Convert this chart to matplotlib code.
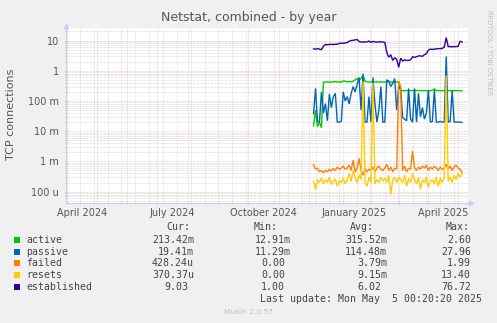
import matplotlib
matplotlib.use("Agg")
import matplotlib.pyplot as plt
import matplotlib.dates as mdates
from matplotlib.patches import Rectangle
from datetime import datetime, timedelta

W, H = 497, 323

# samples every 2 days starting 6 Dec 2024
START = datetime(2024, 12, 6)
STEP_DAYS = 2
END = datetime(2025, 5, 5, 0, 20, 20)

established = [5.3, 5.2, 5.4, 5.2, 5.0, 6.5, 7.4, 7.3, 7.4, 7.5,
               7.4, 7.5, 7.6, 8.0, 8.2, 8.1, 8.3, 8.6, 9.5, 10.0,
               10.2, 10.5, 10.8, 9.3, 9.0, 8.8, 9.1, 9.0, 9.6, 8.7,
               9.4, 9.0, 8.9, 9.0, 9.1, 9.0, 8.6, 4.0, 2.8, 3.4,
               2.2, 2.7, 2.4, 1.3, 2.6, 2.1, 2.3, 2.2, 2.2, 2.3,
               2.9, 2.8, 2.9, 3.1, 3.1, 3.0, 3.4, 3.7, 4.8, 5.2,
               5.1, 5.2, 5.3, 5.4, 5.4, 5.5, 6.0, 12.5, 6.3, 6.3,
               6.2, 6.3, 6.3, 6.4, 9.5, 9.0]

active = [0.015, 0.05, 0.014, 0.02, 0.013, 0.42, 0.42, 0.43, 0.42, 0.42,
          0.43, 0.44, 0.42, 0.43, 0.42, 0.46, 0.45, 0.43, 0.44, 0.43,
          0.45, 0.5, 0.55, 0.48, 0.56, 0.7, 0.45, 0.43, 0.42, 0.43,
          0.44, 0.42, 0.43, 0.42, 0.43, 0.42, 0.42, 0.43, 0.45, 0.42,
          0.43, 0.44, 0.42, 0.43, 0.22, 0.22, 0.22, 0.22, 0.22, 0.22,
          0.22, 0.22, 0.22, 0.22, 0.22, 0.22, 0.22, 0.22, 0.22, 0.22,
          0.23, 0.25, 0.22, 0.22, 0.22, 0.22, 0.22, 0.22, 0.22, 0.22,
          0.22, 0.22, 0.22, 0.22, 0.22, 0.213]

passive = [0.038, 0.26, 0.021, 0.02, 0.2, 0.04, 0.082, 0.022, 0.17, 0.06,
           0.14, 0.18, 0.02, 0.02, 0.021, 0.2, 0.1, 0.14, 0.08, 0.18,
           0.3, 0.2, 0.35, 0.6, 0.05, 0.8, 0.02, 0.02, 0.14, 0.02,
           0.6, 0.08, 0.02, 0.05, 0.3, 0.02, 0.02, 0.5, 0.45, 0.3,
           0.38, 0.55, 0.05, 0.3, 0.25, 0.028, 0.025, 0.022, 0.26, 0.025,
           0.02, 0.26, 0.02, 0.18, 0.03, 0.06, 0.025, 0.04, 0.23, 0.02,
           0.021, 0.23, 0.02, 0.02, 0.021, 0.02, 0.02, 3.0, 0.02, 0.021,
           0.22, 0.02, 0.02, 0.02, 0.02, 0.0194]

failed_milli = [0.78, 0.55, 0.6, 0.45, 0.5, 0.42, 0.5, 0.45, 0.55, 0.48,
                0.6, 0.5, 0.65, 0.55, 0.6, 0.7, 0.55, 0.6, 0.75, 0.5,
                1.1, 0.45, 0.6, 1.25, 0.5, 0.35, 0.6, 0.45, 0.55, 0.5,
                0.65, 0.45, 0.6, 0.7, 0.55, 0.5, 0.6, 0.8, 0.5, 0.65,
                0.45, 0.6, 0.55, 450, 300, 0.5, 0.7, 0.45, 0.6, 0.55,
                2.2, 0.6, 0.5, 0.65, 0.55, 0.7, 0.6, 0.75, 0.5, 0.65,
                0.55, 0.7, 0.6, 0.5, 0.65, 0.55, 0.6, 0.8, 0.55, 0.7,
                0.5, 0.65, 0.75, 0.6, 0.55, 0.43]

resets_milli = [0.22, 0.12, 0.25, 0.2, 0.28, 0.18, 0.25, 0.2, 0.3, 0.17,
                0.22, 0.26, 0.15, 0.24, 0.2, 0.28, 0.18, 0.25, 0.4, 0.22,
                0.5, 0.3, 0.2, 0.35, 0.25, 450, 0.2, 0.15, 0.3, 0.2,
                400, 0.18, 0.25, 0.2, 0.3, 0.22, 0.28, 0.2, 0.35, 0.08,
                0.25, 0.3, 0.2, 0.3, 0.25, 0.2, 0.35, 0.15, 0.28, 0.2,
                0.4, 0.25, 0.18, 0.3, 0.12, 0.25, 0.2, 0.3, 0.14, 0.22,
                0.25, 0.18, 0.3, 0.15, 0.28, 0.2, 0.3, 700, 0.22, 0.3,
                0.2, 0.35, 0.25, 0.4, 0.3, 0.37]

names = ["active", "passive", "failed", "resets", "established"]
colors = ["#00CC00", "#0066B3", "#FF8000", "#FFCC00", "#330099"]
cur = ["213.42m", "19.41m", "428.24u", "370.37u", "9.03"]
mins = ["12.91m", "11.29m", "0.00", "0.00", "1.00"]
avgs = ["315.52m", "114.48m", "3.79m", "9.15m", "6.02"]
maxs = ["2.60", "27.96", "1.99", "13.40", "76.72"]

ytick_vals = [1e-4, 1e-3, 1e-2, 1e-1, 1, 10]
ytick_labels = ["100 u", "1 m", "10 m", "100 m", "1", "10"]
xlabel_text = ["April 2024", "July 2024", "October 2024", "January 2025", "April 2025"]
xlabel_dates = [datetime(2024, 4, 16), datetime(2024, 7, 16), datetime(2024, 10, 16),
                datetime(2025, 1, 16), datetime(2025, 4, 16)]

series = [active, passive,
          [v * 1e-3 for v in failed_milli],
          [v * 1e-3 for v in resets_milli],
          established]
dates = [START + timedelta(days=STEP_DAYS * i) for i in range(len(active))]


def fx(x):
    return x / W


def fy(y):
    return 1 - y / H


fig = plt.figure(figsize=(W / 100, H / 100), dpi=100, facecolor="#F0F0F0")
ax = fig.add_axes([fx(66), fy(203), fx(468 - 66), (203 - 28) / H])
ax.set_facecolor("white")

for vals, c in zip(series, colors):
    ax.plot(dates, vals, color=c, lw=1.0, solid_joinstyle="miter")

ax.set_yscale("log")
ax.set_ylim(4.2e-5, 26)
ax.set_xlim(END - timedelta(days=400), END)

ax.set_yticks(ytick_vals)
ax.set_yticklabels(ytick_labels)
ax.yaxis.set_minor_locator(matplotlib.ticker.LogLocator(base=10, subs=range(2, 10)))
ax.yaxis.set_minor_formatter(matplotlib.ticker.NullFormatter())

ax.xaxis.set_major_locator(mdates.MonthLocator())
ax.xaxis.set_major_formatter(matplotlib.ticker.NullFormatter())
minor_x = [datetime(2024, 4, 14) + timedelta(days=14 * k) for k in range(29)]
ax.set_xticks(minor_x, minor=True)

ax.grid(True, which="minor", color="#CFCFCF", lw=0.5, ls=(0, (1, 1)))
ax.grid(True, which="major", color="#EFA8A8", lw=0.5, ls=(0, (1, 1.5)))
ax.set_axisbelow(True)

ax.tick_params(axis="both", which="major", length=2, width=0.6, color="#E59090",
               direction="inout", labelsize=7, labelcolor="#555555", pad=4)
ax.tick_params(axis="both", which="minor", length=1.5, width=0.5, color="#B8B8B8",
               direction="inout")
ax.tick_params(axis="x", which="major", pad=0)

for s in ["top", "right"]:
    ax.spines[s].set_visible(False)
for s in ["left", "bottom"]:
    ax.spines[s].set_color("#CCCCF0")
    ax.spines[s].set_linewidth(0.8)

# axis arrows
ax.plot([0], [1.01], transform=ax.transAxes, marker="^", ms=3, color="#CCCCF0",
        clip_on=False)
ax.plot([0, 0], [1.0, 1.02], transform=ax.transAxes, color="#CCCCF0", lw=0.8,
        clip_on=False)
ax.plot([1.008], [0], transform=ax.transAxes, marker=">", ms=3, color="#CCCCF0",
        clip_on=False)

# month labels centred on the month
for d, t in zip(xlabel_dates, xlabel_text):
    ax.text(d, -0.055, t, transform=ax.get_xaxis_transform(), ha="center", va="center",
            fontsize=7, color="#555555")

fig.text(0.5, fy(18), "Netstat, combined - by year", ha="center", va="center",
         fontsize=9, color="#555555")
fig.text(fx(11), fy(114), "TCP connections", rotation=90, ha="center", va="center",
         fontsize=8, color="#555555")
fig.text(fx(489), fy(53), "RRDTOOL / TOBI OETIKER", rotation=270, ha="center",
         va="center", fontsize=4.8, color="#C0C0C0")

# legend table
mono = dict(family="DejaVu Sans Mono", fontsize=7.1, color="#444444", va="center")
CH = 5.95
row_y = [240, 252, 263, 275, 287]
for x, t in zip([190, 278, 374, 470], ["Cur:", "Min:", "Avg:", "Max:"]):
    fig.text(fx(x), fy(227), t, ha="right", **mono)
col_right = [194, 291, 387, 477]
for i, name in enumerate(names):
    y = row_y[i]
    fig.add_artist(Rectangle((fx(14), fy(y + 3)), 6 / W, 6 / H,
                             transform=fig.transFigure, color=colors[i], lw=0))
    fig.text(fx(26), fy(y), name, ha="left", **mono)
    for xr, v in zip(col_right, [cur[i], mins[i], avgs[i], maxs[i]]):
        shift = 0 if v[-1] in "mu" else CH
        fig.text(fx(xr - shift), fy(y), v, ha="right", **mono)
fig.text(fx(482), fy(299), "Last update: Mon May  5 00:20:20 2025", ha="right", **mono)
fig.text(fx(248), fy(312), "Munin 2.0.57", ha="center", va="center", fontsize=5.4,
         color="#C0C0C0")

fig.savefig("out.png", dpi=100, facecolor=fig.get_facecolor())
